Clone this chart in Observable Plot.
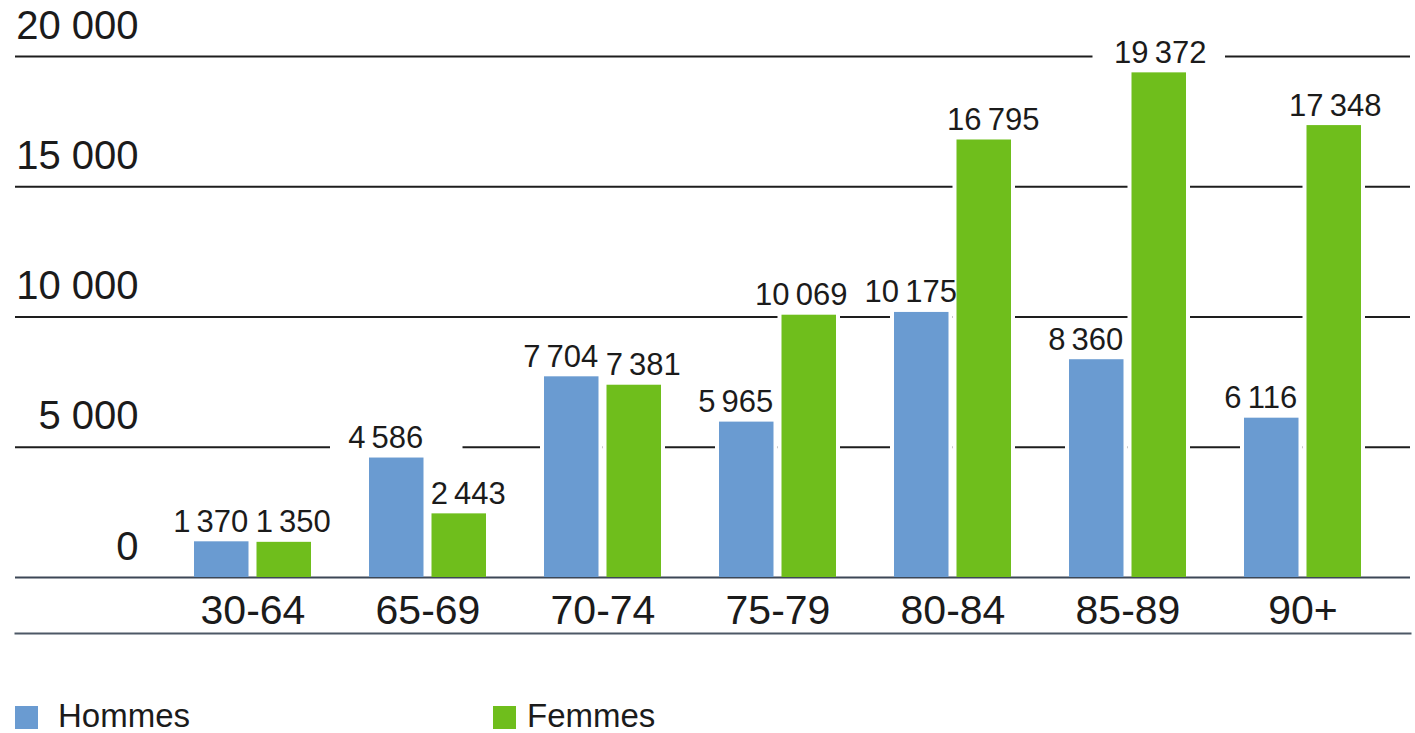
<!DOCTYPE html>
<html>
<head>
<meta charset="utf-8">
<script src="https://cdn.jsdelivr.net/npm/d3@7"></script>
<script src="https://cdn.jsdelivr.net/npm/@observablehq/plot@0.6"></script>
<style>
  html, body { margin: 0; padding: 0; background: #fff; }
  #wrap { position: relative; width: 1415px; height: 733px; overflow: hidden;
          font-family: "Liberation Sans", Arial, sans-serif; color: #1b1b1b; }
  .layer { position: absolute; left: 0; top: 0; }
  .layer svg { display: block; }
  .swatch { position: absolute; top: 706px; width: 23px; height: 23px; }
  .lab { position: absolute; top: 702px; font-size: 33px; line-height: 28px; white-space: nowrap; }
</style>
</head>
<body>
<div id="wrap">
  <div id="rules" class="layer"></div>
  <div id="bars" class="layer"></div>
  <div class="swatch" style="left:15px;background:#6a9bd1"></div>
  <div class="lab" style="left:58px">Hommes</div>
  <div class="swatch" style="left:493px;background:#6fbe1c"></div>
  <div class="lab" style="left:527px">Femmes</div>
</div>
<script>
// Age groups and counts per sex
const ages = ["30-64", "65-69", "70-74", "75-79", "80-84", "85-89", "90+"];
const sexes = ["Hommes", "Femmes"];
const hommes = [1370, 4586, 7704, 5965, 10175, 8360, 6116];
const femmes = [1350, 2443, 7381, 10069, 16795, 19372, 17348];
const yTicks = [0, 5000, 10000, 15000, 20000];
const colors = ["#6a9bd1", "#6fbe1c"];

const data = ages.flatMap((age, i) => [
  {age, sex: "Hommes", value: hommes[i]},
  {age, sex: "Femmes", value: femmes[i]}
]);

// thousands grouped with a space, French style
const group = (sep) => (n) => String(n).replace(/\B(?=(\d{3})+(?!\d))/g, sep);
const fmtTick = group(" ");
const fmtValue = group("\u2009");

const font = "'Liberation Sans', Arial, sans-serif";
const frame = {width: 1415, height: 680, marginLeft: 15, marginRight: 5, marginTop: 20, marginBottom: 47};
const yScale = {domain: [0, 20000], range: [577, 56], label: null};

// back layer: full-width rules
const rules = Plot.plot({
  ...frame,
  style: {fontFamily: font, background: "white"},
  y: {...yScale, axis: null},
  marks: [
    Plot.ruleY(yTicks.filter((d) => d > 0), {stroke: "#1e1e1e", strokeWidth: 2}),
    Plot.ruleY([0], {stroke: "#3c4756", strokeWidth: 2}),
    Plot.frame({anchor: "bottom", stroke: "#4d5866", strokeWidth: 2})
  ]
});

// value labels for a subset of bars, shifted sideways by dx
const valueLabel = (test, dx) =>
  Plot.text(data.filter(test), {
    fx: "age", x: "sex", y: "value", text: (d) => fmtValue(d.value),
    lineAnchor: "bottom", dy: -10, dx, fontSize: 31, fill: "#1b1b1b"
  });

// front layer: grouped bars, labels and axes
const bars = Plot.plot({
  ...frame,
  style: {fontFamily: font, color: "#1b1b1b", background: "transparent"},
  fx: {domain: ages, paddingInner: 0.334, paddingOuter: 0.637, align: 0.782, axis: null, label: null},
  x: {domain: sexes, paddingInner: 0.128, paddingOuter: 0, round: false, axis: null, label: null},
  y: yScale,
  color: {domain: sexes, range: colors},
  marks: [
    // white patches behind the value labels, breaking the rules
    Plot.barY(data, {fx: "age", x: "sex", y1: "value", y2: "value", fill: "white",
      insetTop: -36, insetLeft: -39, insetRight: -39}),
    // thin white margin round each bar
    Plot.barY(data, {fx: "age", x: "sex", y: "value", fill: "white",
      insetLeft: -4, insetRight: -4, insetTop: -4, insetBottom: 1}),
    Plot.barY(data, {fx: "age", x: "sex", y: "value", fill: "sex"}),
    // value labels, nudged apart where neighbours would collide
    valueLabel((d) => d.sex === "Hommes", -11),
    valueLabel((d) => d.sex === "Femmes" && ["30-64", "65-69", "70-74", "80-84"].includes(d.age), 9),
    valueLabel((d) => d.sex === "Femmes" && d.age === "75-79", -8),
    valueLabel((d) => d.sex === "Femmes" && ["85-89", "90+"].includes(d.age), 1),
    // age group labels
    Plot.text(ages, {fx: (d) => d, text: (d) => d, frameAnchor: "bottom",
      lineAnchor: "bottom", dy: -10, fontSize: 41, fill: "#1b1b1b"}),
    // y tick labels sitting above their rules
    Plot.axisY(yTicks, {anchor: "left", tickSize: 0, tickPadding: 56, tickFormat: fmtTick,
      fontSize: 40, lineAnchor: "bottom", dy: -18, label: null})
  ]
});

document.getElementById("rules").appendChild(rules);
document.getElementById("bars").appendChild(bars);
</script>
</body>
</html>
